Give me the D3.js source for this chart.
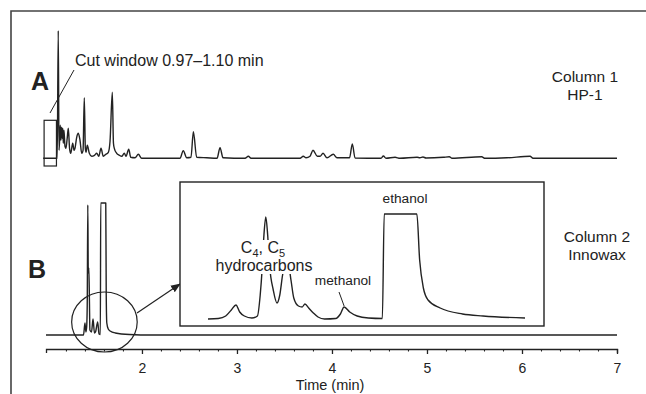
<!DOCTYPE html>
<html>
<head>
<meta charset="utf-8">
<script src="https://cdn.jsdelivr.net/npm/d3@7"></script>
<style>
body { margin: 0; background: #fff; }
text { font-family: "Liberation Sans", Arial, sans-serif; fill: #222; }
.trace { fill: none; stroke: #222; stroke-width: 1.4; stroke-linejoin: round; }
</style>
</head>
<body>
<svg id="chart" width="646" height="394"></svg>
<script>
// retention time (min) vs detector signal
var timeTicks = [2, 3, 4, 5, 6, 7];
var minorTicks = [1.2, 1.4, 1.6, 1.8, 2.2, 2.4, 2.6, 2.8, 3.2, 3.4, 3.6, 3.8, 4.2, 4.4, 4.6, 4.8,
                  5.2, 5.4, 5.6, 5.8, 6.2, 6.4, 6.6, 6.8];
var cutWindow = [0.97, 1.10];
var zoomWindow = [1.26, 1.95];

// column 1 (HP-1)
var traceA = [[0.96,0],[1.108,0],[1.119,127.6],[1.127,8],[1.134,20],[1.140,33],[1.147,18],[1.153,31],
    [1.160,20],[1.166,30],[1.172,15],[1.179,28],[1.19,12],[1.200,10],[1.213,20],[1.225,30],[1.238,10],
    [1.250,5],[1.271,15],[1.285,8],[1.295,10],[1.313,21],[1.330,25],[1.348,18],[1.366,5],[1.380,8],
    [1.393,60.6],[1.404,10],[1.411,6],[1.425,13],[1.446,5],[1.471,2],[1.500,3],[1.524,5],[1.545,2],
    [1.569,10],[1.593,2],[1.620,4],[1.646,6],[1.664,17],[1.688,66],[1.700,15],[1.709,10],[1.734,5],
    [1.762,3],[1.787,2],[1.814,5],[1.832,2],[1.861,9],[1.882,1],[1.927,0.5],[1.962,4],[1.997,0],
    [2.40,0],[2.435,7.6],[2.471,0.5],[2.516,1],[2.541,26.6],[2.576,1],[2.682,0.5],[2.79,0],[2.822,10.6],
    [2.853,0.5],[3.085,0],[3.12,2],[3.148,0],[3.664,0],[3.698,2],[3.727,0.5],[3.769,2],[3.80,8],
    [3.846,2],[3.874,2],[3.906,5],[3.948,0.5],[4.014,4],[4.053,0.5],[4.185,0.5],[4.214,14.3],[4.243,0.3],
    [4.516,0],[4.541,2.3],[4.569,0],[4.664,1],[4.716,0],[4.895,1],[4.926,0.5],[4.958,1.3],[4.99,0.3],
    [5.172,1],[5.235,1.5],[5.264,0],[5.576,1.5],[5.611,0],[5.84,0.5],[6.085,2],[6.116,0],[7.0,0]];

// column 2 (Innowax)
var traceB = [[0.99,0],[1.385,0],[1.400,12],[1.410,3],[1.418,8],[1.424,30],[1.430,130],[1.435,62],
    [1.441,67],[1.447,35],[1.452,5],[1.469,3],[1.485,16],[1.500,2],[1.511,3],[1.534,13],[1.548,1],
    [1.562,0.5],[1.566,132],[1.619,132],[1.624,40],[1.630,12],[1.645,6],[1.665,4],[1.72,2],[1.87,0.5],
    [2.1,0],[7,0]];

// magnified part of column 2
var traceInset = [[1.370,0],[1.381,0.5],[1.389,3],[1.395,9],[1.400,14],[1.404,7],[1.409,3],[1.417,1],
    [1.423,3],[1.426,24],[1.428,49],[1.430,84],[1.432,102],[1.434,84],[1.436,54],[1.440,29],[1.444,16],
    [1.447,24],[1.450,44],[1.455,61],[1.459,39],[1.462,21],[1.467,13],[1.471,12],[1.474,15],[1.478,11],
    [1.483,6],[1.488,2],[1.495,0],[1.507,0.5],[1.512,5],[1.516,12],[1.522,7],[1.530,3],[1.542,1],
    [1.557,0.5],[1.559,105],[1.594,105],[1.597,59],[1.601,31],[1.606,19],[1.619,11],[1.643,5],
    [1.665,3],[1.710,1]];

var svg = d3.select("#chart");

var x = d3.scaleLinear().domain([0.99, 7]).range([46, 617]),
    yA = d3.scaleLinear().domain([0, 127.6]).range([158.3, 30.7]),
    yB = d3.scaleLinear().domain([0, 132]).range([335, 203]),
    xIn = d3.scaleLinear().domain([1.37, 1.71]).range([208, 525]),
    yIn = d3.scaleLinear().domain([0, 105]).range([319, 214]);

function trace(sx, sy) {
    return d3.line()
        .x(function(d) { return sx(d[0]); })
        .y(function(d) { return sy(d[1]); })
        .curve(d3.curveMonotoneX);
}

// frame (cropped on the right and bottom)
svg.append("path")
    .attr("d", "M11,394V11H646")
    .attr("fill", "none").attr("stroke", "#444").attr("stroke-width", 1.6);

svg.append("marker")
    .attr("id", "arrow").attr("viewBox", "0 0 10 10")
    .attr("refX", 9).attr("refY", 5)
    .attr("markerWidth", 10).attr("markerHeight", 10)
    .attr("markerUnits", "userSpaceOnUse")
    .attr("orient", "auto")
  .append("path").attr("d", "M0,1L10,5L0,9Z").attr("fill", "#222");

// axis
var gx = svg.append("g")
    .attr("transform", "translate(0,349)")
    .style("color", "#222")
    .call(d3.axisBottom(x).tickValues(timeTicks).tickFormat(d3.format("d"))
        .tickSizeInner(5).tickSizeOuter(4).tickPadding(9));
gx.selectAll("path, line").attr("stroke-width", 1.3);
gx.selectAll("text").attr("font-size", 14).attr("font-family", "Liberation Sans, Arial, sans-serif");

svg.append("g")
    .attr("transform", "translate(0,349)")
    .style("color", "#222")
    .call(d3.axisBottom(x).tickValues(minorTicks).tickSize(2.5).tickFormat(""))
    .call(function(g) { g.select(".domain").remove(); })
    .selectAll("line").attr("stroke-width", 1.1);

svg.append("text")
    .attr("x", 330).attr("y", 390)
    .attr("text-anchor", "middle").attr("font-size", 14.5)
    .text("Time (min)");

// trace A
svg.append("path").datum(traceA).attr("class", "trace").attr("d", trace(x, yA));

svg.append("rect")
    .attr("x", x(cutWindow[0])).attr("y", yA(38))
    .attr("width", x(cutWindow[1]) - x(cutWindow[0]))
    .attr("height", yA(-7.7) - yA(38))
    .attr("fill", "none").attr("stroke", "#222").attr("stroke-width", 1.2);

svg.append("line")
    .attr("x1", 50).attr("y1", 113).attr("x2", 74).attr("y2", 70)
    .attr("stroke", "#222").attr("stroke-width", 1);

svg.append("text")
    .attr("x", 75).attr("y", 66).attr("font-size", 16)
    .text("Cut window 0.97\u20131.10 min");

svg.append("text").attr("x", 31).attr("y", 90)
    .attr("font-size", 25).attr("font-weight", "bold").text("A");

svg.append("text").attr("x", 585).attr("y", 82)
    .attr("text-anchor", "middle").attr("font-size", 15.5).text("Column 1");
svg.append("text").attr("x", 585).attr("y", 100)
    .attr("text-anchor", "middle").attr("font-size", 15.5).text("HP-1");

// trace B
svg.append("path").datum(traceB).attr("class", "trace").attr("d", trace(x, yB));

svg.append("text").attr("x", 28).attr("y", 278)
    .attr("font-size", 25).attr("font-weight", "bold").text("B");

svg.append("text").attr("x", 597).attr("y", 242)
    .attr("text-anchor", "middle").attr("font-size", 15.5).text("Column 2");
svg.append("text").attr("x", 597).attr("y", 260)
    .attr("text-anchor", "middle").attr("font-size", 15.5).text("Innowax");

svg.append("ellipse")
    .attr("cx", (x(zoomWindow[0]) + x(zoomWindow[1])) / 2).attr("cy", 322)
    .attr("rx", (x(zoomWindow[1]) - x(zoomWindow[0])) / 2).attr("ry", 30)
    .attr("fill", "none").attr("stroke", "#222").attr("stroke-width", 1.2);

svg.append("line")
    .attr("x1", 137).attr("y1", 313).attr("x2", 180).attr("y2", 284)
    .attr("stroke", "#222").attr("stroke-width", 1.2)
    .attr("marker-end", "url(#arrow)");

// inset
svg.append("rect")
    .attr("x", 180).attr("y", 182).attr("width", 364).attr("height", 144)
    .attr("fill", "#fff").attr("stroke", "#222").attr("stroke-width", 1.4);

svg.append("path").datum(traceInset).attr("class", "trace").attr("d", trace(xIn, yIn));

var hc = svg.append("g");
var c45 = hc.append("text").attr("x", 263).attr("y", 253)
    .attr("text-anchor", "middle").attr("font-size", 16);
c45.append("tspan").text("C");
c45.append("tspan").attr("dy", 3.5).attr("font-size", 11).text("4");
c45.append("tspan").attr("dy", -3.5).text(", C");
c45.append("tspan").attr("dy", 3.5).attr("font-size", 11).text("5");
hc.append("text").attr("x", 264).attr("y", 271)
    .attr("text-anchor", "middle").attr("font-size", 16).text("hydrocarbons");
var bb = hc.node().getBBox();
hc.insert("rect", ":first-child")
    .attr("x", bb.x - 1).attr("y", bb.y + 1)
    .attr("width", bb.width + 2).attr("height", bb.height - 1)
    .attr("fill", "#fff");

svg.append("text").attr("x", 343).attr("y", 285)
    .attr("text-anchor", "middle").attr("font-size", 13.7).text("methanol");
svg.append("line")
    .attr("x1", 339).attr("y1", 292).attr("x2", xIn(1.516)).attr("y2", yIn(12) - 1)
    .attr("stroke", "#222").attr("stroke-width", 1);

svg.append("text").attr("x", 405).attr("y", 203)
    .attr("text-anchor", "middle").attr("font-size", 13.7).text("ethanol");
</script>
</body>
</html>
